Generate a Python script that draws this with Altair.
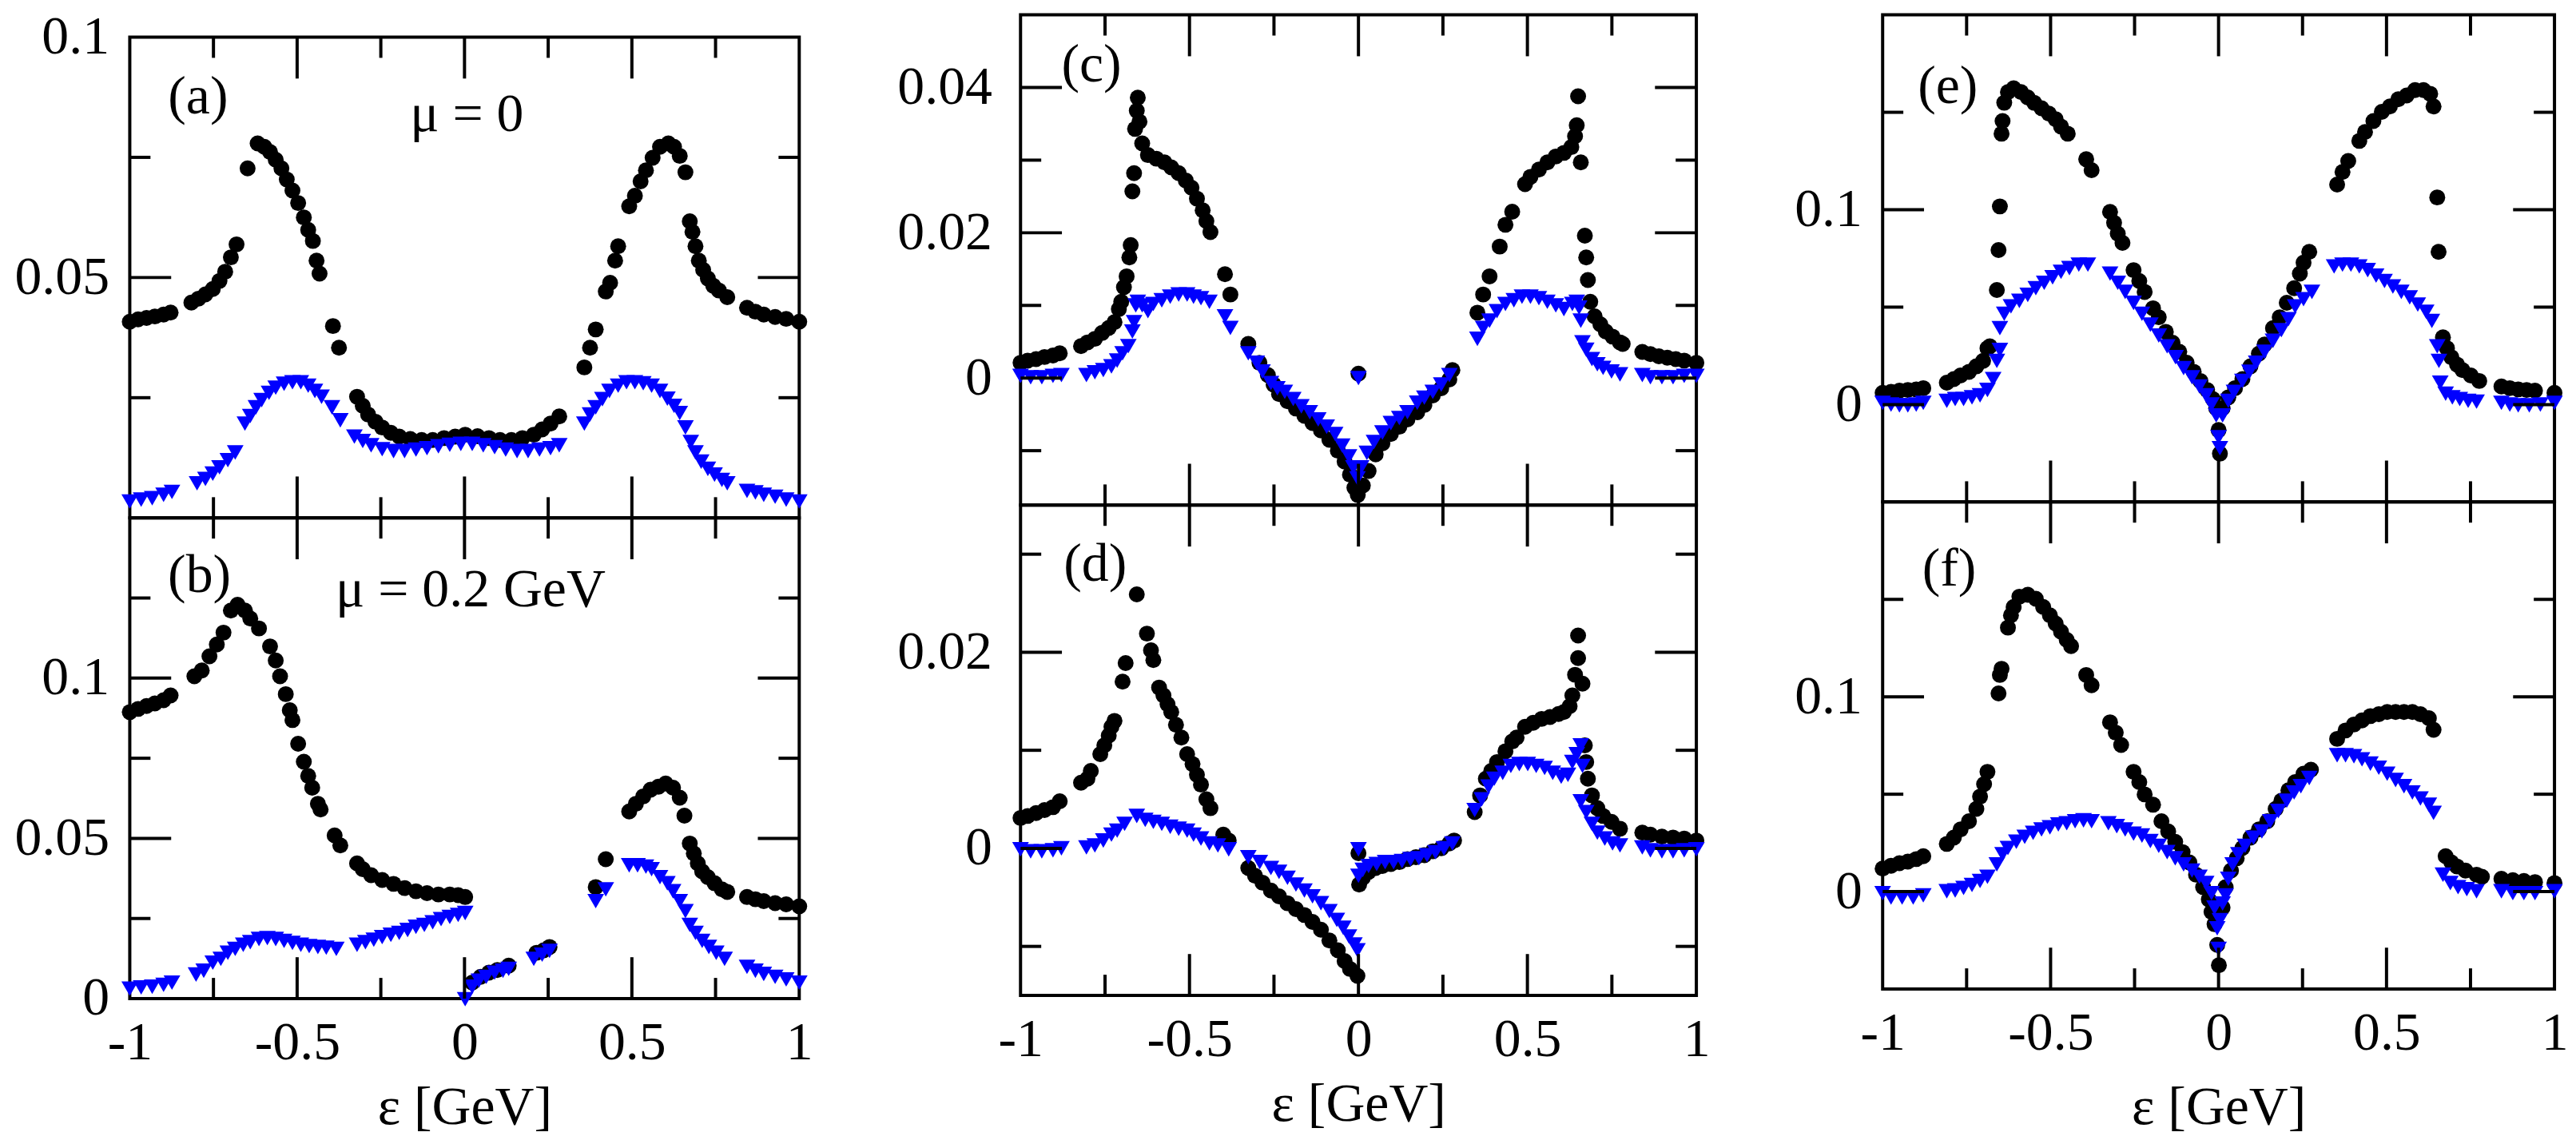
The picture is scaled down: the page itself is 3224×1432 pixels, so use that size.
import altair as alt
import pandas as pd

# ---------------- panel (a): mu = 0 ----------------
a_black_x = [-1.000,-0.975,-0.950,-0.925,-0.899,-0.878,-0.816,-0.795,-0.774,-0.752,-0.732,-0.715,-0.698,-0.681,
             -0.648,-0.618,-0.598,-0.581,-0.564,-0.547,-0.531,-0.514,-0.497,-0.480,-0.467,-0.453,-0.442,-0.433,
             -0.393,-0.375,-0.321,-0.304,-0.288,-0.266,-0.246,-0.220,-0.195,-0.162,-0.128,-0.095,-0.061,-0.028,
             0.002,0.039,0.073,0.106,0.140,0.173,0.207,0.232,0.257,0.283,0.358,0.375,0.392,0.422,0.435,0.450,
             0.459,0.492,0.509,0.526,0.542,0.562,0.584,0.609,0.626,0.643,0.660,0.673,0.681,0.690,0.700,0.713,
             0.727,0.743,0.760,0.785,0.844,0.869,0.894,0.928,0.961,1.000]
a_black_y = [0.0408,0.0413,0.0416,0.0419,0.0423,0.0427,0.0448,0.0456,0.0465,0.0476,0.0493,0.0512,0.0542,0.0569,
             0.0727,0.0779,0.0772,0.0761,0.0745,0.0727,0.0704,0.0681,0.0655,0.0625,0.0599,0.0576,0.0535,0.0508,
             0.0399,0.0354,0.0252,0.0233,0.0215,0.0200,0.0188,0.0177,0.0169,0.0164,0.0162,0.0162,0.0166,0.0169,
             0.0173,0.0170,0.0166,0.0162,0.0162,0.0166,0.0173,0.0184,0.0196,0.0211,0.0313,0.0354,0.0392,0.0471,
             0.0489,0.0535,0.0565,0.0648,0.0670,0.0700,0.0723,0.0749,0.0772,0.0779,0.0772,0.0753,0.0719,0.0617,
             0.0595,0.0565,0.0535,0.0516,0.0498,0.0483,0.0473,0.0459,0.0437,0.0429,0.0423,0.0418,0.0414,0.0408]
a_blue_x = [-1.000,-0.966,-0.933,-0.899,-0.874,-0.799,-0.774,-0.752,-0.732,-0.707,-0.685,-0.656,-0.640,-0.623,
            -0.606,-0.584,-0.564,-0.539,-0.514,-0.489,-0.467,-0.447,-0.427,-0.396,-0.371,-0.329,-0.304,-0.279,
            -0.246,-0.212,-0.179,-0.145,-0.112,-0.078,-0.044,-0.011,0.023,0.056,0.090,0.123,0.157,0.190,0.224,
            0.257,0.283,0.358,0.375,0.392,0.412,0.433,0.459,0.484,0.509,0.534,0.559,0.584,0.606,0.626,0.643,
            0.660,0.676,0.690,0.707,0.727,0.747,0.769,0.785,0.844,0.869,0.894,0.928,0.961,1.000]
a_blue_y = [0.0034,0.0038,0.0041,0.0048,0.0054,0.0072,0.0081,0.0092,0.0105,0.0120,0.0136,0.0196,0.0212,0.0230,
            0.0245,0.0260,0.0271,0.0279,0.0282,0.0282,0.0275,0.0264,0.0252,0.0230,0.0203,0.0169,0.0160,0.0151,
            0.0143,0.0139,0.0139,0.0142,0.0145,0.0149,0.0152,0.0154,0.0154,0.0151,0.0147,0.0142,0.0139,0.0139,
            0.0142,0.0145,0.0151,0.0196,0.0215,0.0230,0.0247,0.0264,0.0275,0.0282,0.0282,0.0280,0.0275,0.0264,
            0.0248,0.0233,0.0218,0.0188,0.0158,0.0136,0.0117,0.0102,0.0090,0.0079,0.0072,0.0056,0.0053,0.0048,
            0.0044,0.0038,0.0034]

# ---------------- panel (b): mu = 0.2 GeV ----------------
b_black_x = [-1.000,-0.975,-0.950,-0.925,-0.899,-0.878,-0.807,-0.785,-0.762,-0.740,-0.720,-0.698,-0.678,-0.656,
             -0.640,-0.614,-0.581,-0.564,-0.551,-0.534,-0.522,-0.514,-0.497,-0.480,-0.467,-0.455,-0.438,-0.430,
             -0.388,-0.371,-0.321,-0.304,-0.279,-0.246,-0.212,-0.179,-0.145,-0.112,-0.078,-0.044,-0.019,0.002,
             0.023,0.048,0.073,0.098,0.132,0.215,0.237,0.254,0.392,0.422,0.492,0.512,0.534,0.556,0.579,0.601,
             0.623,0.643,0.657,0.673,0.685,0.697,0.710,0.727,0.747,0.769,0.785,0.844,0.869,0.894,0.928,0.961,1.000]
b_black_y = [0.0894,0.0904,0.0913,0.0921,0.0931,0.0946,0.1006,0.1024,0.1068,0.1105,0.1142,0.1211,0.1229,0.1211,
             0.1186,0.1155,0.1099,0.1055,0.1006,0.0950,0.0900,0.0869,0.0795,0.0739,0.0695,0.0658,0.0608,0.0590,
             0.0509,0.0478,0.0422,0.0404,0.0385,0.0370,0.0358,0.0345,0.0335,0.0329,0.0325,0.0325,0.0323,0.0317,
             0.0050,0.0068,0.0081,0.0089,0.0103,0.0143,0.0151,0.0161,0.0348,0.0435,0.0584,0.0608,0.0631,0.0652,
             0.0661,0.0671,0.0658,0.0627,0.0571,0.0484,0.0453,0.0422,0.0397,0.0379,0.0360,0.0341,0.0333,0.0317,
             0.0310,0.0304,0.0298,0.0294,0.0288]
b_blue_x = [-1.000,-0.966,-0.933,-0.899,-0.874,-0.802,-0.779,-0.752,-0.728,-0.707,-0.685,-0.661,-0.640,-0.614,
            -0.589,-0.564,-0.539,-0.514,-0.489,-0.464,-0.438,-0.413,-0.383,-0.321,-0.296,-0.271,-0.246,-0.220,
            -0.195,-0.170,-0.145,-0.120,-0.095,-0.070,-0.044,-0.019,0.002,0.002,0.023,0.043,0.065,0.090,0.115,
            0.132,0.207,0.232,0.254,0.392,0.422,0.492,0.517,0.542,0.559,0.584,0.606,0.623,0.643,0.660,0.673,
            0.690,0.710,0.730,0.752,0.777,0.844,0.869,0.894,0.928,0.961,1.000]
b_blue_y = [0.0031,0.0035,0.0037,0.0043,0.0050,0.0075,0.0087,0.0112,0.0124,0.0143,0.0155,0.0168,0.0176,0.0186,
            0.0189,0.0186,0.0180,0.0174,0.0168,0.0164,0.0161,0.0159,0.0155,0.0168,0.0176,0.0184,0.0192,0.0199,
            0.0205,0.0214,0.0224,0.0230,0.0238,0.0248,0.0255,0.0261,0.0267,-0.0002,0.0037,0.0056,0.0068,0.0081,
            0.0087,0.0093,0.0124,0.0137,0.0149,0.0304,0.0341,0.0416,0.0416,0.0412,0.0404,0.0379,0.0360,0.0335,
            0.0304,0.0273,0.0230,0.0205,0.0180,0.0161,0.0143,0.0124,0.0099,0.0087,0.0077,0.0068,0.0060,0.0050]

# ---------------- panel (c) ----------------
c_black_x = [-1.000,-0.979,-0.954,-0.929,-0.904,-0.884,-0.821,-0.802,-0.780,-0.759,-0.739,-0.722,-0.709,-0.702,
             -0.694,-0.686,-0.678,-0.674,-0.669,-0.664,-0.661,-0.656,-0.653,-0.648,-0.640,-0.623,-0.598,-0.574,
             -0.554,-0.532,-0.511,-0.494,-0.478,-0.461,-0.450,-0.438,-0.395,-0.379,-0.326,-0.293,-0.268,-0.251,
             -0.235,-0.210,-0.185,-0.160,-0.136,-0.111,-0.086,-0.061,-0.041,-0.025,-0.012,-0.002,0.000,0.013,
             0.030,0.051,0.071,0.096,0.121,0.145,0.174,0.195,0.220,0.245,0.269,0.278,0.352,0.369,0.388,0.418,
             0.435,0.455,0.493,0.509,0.534,0.559,0.584,0.608,0.630,0.641,0.646,0.650,0.658,0.670,0.674,0.679,
             0.686,0.699,0.716,0.732,0.752,0.774,0.782,0.840,0.864,0.889,0.914,0.939,0.964,1.000]
c_black_y = [0.0021,0.0024,0.0026,0.0029,0.0031,0.0034,0.0044,0.0049,0.0054,0.0062,0.0069,0.0077,0.0095,0.0105,
             0.0125,0.0140,0.0166,0.0183,0.0257,0.0282,0.0343,0.0368,0.0386,0.0353,0.0323,0.0307,0.0302,0.0297,
             0.0290,0.0282,0.0272,0.0262,0.0247,0.0231,0.0216,0.0201,0.0143,0.0115,0.0047,0.0021,0.0004,-0.0009,
             -0.0022,-0.0032,-0.0042,-0.0052,-0.0062,-0.0072,-0.0085,-0.0100,-0.0115,-0.0133,-0.0151,-0.0161,0.0006,-0.0148,
             -0.0128,-0.0105,-0.0090,-0.0077,-0.0067,-0.0057,-0.0047,-0.0037,-0.0024,-0.0014,-0.0002,0.0011,0.0090,0.0115,
             0.0140,0.0181,0.0211,0.0229,0.0267,0.0277,0.0287,0.0297,0.0305,0.0310,0.0318,0.0333,0.0348,0.0388,
             0.0297,0.0196,0.0166,0.0135,0.0105,0.0085,0.0074,0.0064,0.0057,0.0049,0.0047,0.0036,0.0033,0.0030,
             0.0028,0.0026,0.0024,0.0021]
c_blue_x = [-1.000,-0.970,-0.937,-0.904,-0.879,-0.805,-0.780,-0.755,-0.731,-0.714,-0.698,-0.681,-0.669,-0.664,
            -0.659,-0.653,-0.640,-0.623,-0.607,-0.582,-0.557,-0.532,-0.507,-0.488,-0.466,-0.441,-0.395,-0.379,
            -0.326,-0.301,-0.284,-0.259,-0.240,-0.218,-0.193,-0.169,-0.144,-0.119,-0.094,-0.069,-0.048,-0.028,
            -0.015,-0.003,0.000,0.008,0.025,0.046,0.071,0.096,0.121,0.145,0.174,0.195,0.220,0.245,0.269,0.352,
            0.369,0.388,0.410,0.435,0.460,0.484,0.509,0.534,0.559,0.584,0.608,0.633,0.646,0.653,0.658,0.663,
            0.674,0.691,0.707,0.724,0.749,0.774,0.840,0.864,0.898,0.931,0.964,1.000]
c_blue_y = [0.0003,0.0001,0.0001,0.0003,0.0004,0.0004,0.0008,0.0011,0.0016,0.0024,0.0034,0.0044,0.0064,0.0077,
            0.0100,0.0105,0.0100,0.0092,0.0102,0.0107,0.0112,0.0115,0.0115,0.0112,0.0110,0.0105,0.0085,0.0069,
            0.0034,0.0021,0.0009,-0.0007,-0.0014,-0.0019,-0.0029,-0.0039,-0.0047,-0.0057,-0.0067,-0.0077,-0.0093,-0.0108,
            -0.0123,-0.0138,0.0000,-0.0123,-0.0103,-0.0088,-0.0075,-0.0062,-0.0055,-0.0047,-0.0034,-0.0027,-0.0019,-0.0009,0.0004,0.0054,
            0.0069,0.0079,0.0092,0.0102,0.0107,0.0112,0.0112,0.0110,0.0105,0.0100,0.0095,0.0102,0.0105,0.0097,0.0079,0.0049,
            0.0039,0.0026,0.0019,0.0014,0.0009,0.0005,0.0004,0.0001,0.0001,0.0001,0.0003,0.0003]

# ---------------- panel (d) ----------------
d_black_x = [-1.000,-0.979,-0.954,-0.929,-0.904,-0.884,-0.821,-0.802,-0.792,-0.764,-0.752,-0.739,-0.731,-0.722,
             -0.698,-0.689,-0.656,-0.626,-0.614,-0.607,-0.590,-0.577,-0.565,-0.554,-0.540,-0.524,-0.507,-0.491,
             -0.478,-0.466,-0.450,-0.438,-0.400,-0.384,-0.326,-0.306,-0.284,-0.259,-0.235,-0.210,-0.185,-0.160,
             -0.136,-0.111,-0.086,-0.061,-0.041,-0.025,-0.003,0.000,0.002,0.013,0.030,0.051,0.071,0.096,0.121,
             0.145,0.170,0.195,0.220,0.245,0.269,0.283,0.344,0.360,0.377,0.393,0.410,0.435,0.455,0.468,0.493,
             0.517,0.542,0.567,0.592,0.608,0.625,0.633,0.641,0.650,0.650,0.663,0.670,0.674,0.679,0.691,0.707,
             0.724,0.749,0.774,0.840,0.864,0.898,0.931,0.964,1.000]
d_black_y = [0.0031,0.0033,0.0036,0.0039,0.0042,0.0048,0.0067,0.0071,0.0079,0.0096,0.0105,0.0115,0.0124,0.0130,
             0.0170,0.0189,0.0259,0.0219,0.0202,0.0192,0.0164,0.0156,0.0147,0.0139,0.0126,0.0113,0.0096,0.0086,
             0.0075,0.0065,0.0050,0.0041,0.0014,0.0008,-0.0020,-0.0028,-0.0035,-0.0043,-0.0049,-0.0056,-0.0062,-0.0068,
             -0.0075,-0.0083,-0.0094,-0.0104,-0.0115,-0.0123,-0.0130,-0.0005,-0.0037,-0.0030,-0.0024,-0.0020,-0.0018,-0.0016,-0.0014,
             -0.0011,-0.0009,-0.0007,-0.0003,0.0000,0.0005,0.0008,0.0037,0.0054,0.0071,0.0079,0.0088,0.0099,0.0109,0.0113,0.0124,
             0.0128,0.0132,0.0134,0.0137,0.0139,0.0145,0.0156,0.0177,0.0194,0.0217,0.0168,0.0105,0.0088,0.0071,0.0054,0.0041,
             0.0033,0.0027,0.0020,0.0016,0.0014,0.0012,0.0011,0.0010,0.0008]
d_blue_x = [-1.000,-0.970,-0.937,-0.904,-0.879,-0.805,-0.780,-0.755,-0.731,-0.714,-0.692,-0.656,-0.631,-0.607,
            -0.582,-0.557,-0.532,-0.507,-0.488,-0.466,-0.441,-0.416,-0.384,-0.326,-0.292,-0.259,-0.235,-0.210,
            -0.185,-0.160,-0.136,-0.111,-0.086,-0.064,-0.045,-0.028,-0.012,-0.003,0.000,0.000,0.013,0.030,0.054,
            0.079,0.104,0.129,0.154,0.179,0.203,0.228,0.253,0.278,0.344,0.365,0.385,0.402,0.427,0.451,0.476,
            0.501,0.526,0.551,0.575,0.600,0.620,0.633,0.646,0.658,0.663,0.658,0.674,0.691,0.707,0.729,0.752,
            0.774,0.840,0.864,0.898,0.931,0.964,1.000]
d_blue_y = [-0.0001,-0.0003,-0.0003,-0.0002,0.0000,0.0001,0.0003,0.0008,0.0014,0.0018,0.0025,0.0033,0.0029,0.0027,
            0.0025,0.0022,0.0020,0.0018,0.0014,0.0010,0.0005,0.0003,-0.0001,-0.0009,-0.0014,-0.0020,-0.0024,-0.0030,
            -0.0037,-0.0043,-0.0049,-0.0056,-0.0064,-0.0073,-0.0081,-0.0090,-0.0098,-0.0104,-0.0001,-0.0028,-0.0022,-0.0018,-0.0016,
            -0.0014,-0.0014,-0.0013,-0.0011,-0.0010,-0.0007,-0.0004,0.0000,0.0005,0.0039,0.0050,0.0063,0.0071,0.0077,0.0084,0.0086,
            0.0086,0.0084,0.0082,0.0077,0.0073,0.0075,0.0088,0.0096,0.0105,0.0084,0.0048,0.0037,0.0025,0.0016,0.0010,0.0005,
            0.0003,0.0001,-0.0002,-0.0003,-0.0003,-0.0002,-0.0001]

# ---------------- panel (e) ----------------
e_black_x = [-1.000,-0.975,-0.950,-0.925,-0.900,-0.879,-0.809,-0.788,-0.768,-0.743,-0.721,-0.701,-0.688,-0.681,
             -0.660,-0.655,-0.651,-0.646,-0.643,-0.638,-0.627,-0.610,-0.588,-0.568,-0.549,-0.527,-0.505,-0.485,
             -0.469,-0.449,-0.394,-0.378,-0.323,-0.311,-0.300,-0.286,-0.253,-0.236,-0.220,-0.195,-0.178,-0.157,
             -0.137,-0.117,-0.095,-0.074,-0.054,-0.034,-0.017,-0.007,0.000,0.004,0.012,0.029,0.049,0.071,0.095,
             0.120,0.137,0.162,0.182,0.203,0.225,0.242,0.253,0.270,0.353,0.369,0.386,0.419,0.436,0.461,0.486,
             0.510,0.535,0.560,0.585,0.610,0.630,0.640,0.651,0.655,0.668,0.680,0.693,0.710,0.726,0.751,0.776,
             0.842,0.867,0.892,0.917,0.942,1.000]
e_black_y = [0.0060,0.0065,0.0071,0.0075,0.0078,0.0084,0.0112,0.0131,0.0149,0.0168,0.0196,0.0224,0.0289,0.0299,
             0.0588,0.0793,0.1017,0.1390,0.1455,0.1549,0.1604,0.1623,0.1604,0.1576,0.1549,0.1521,0.1493,0.1465,
             0.1427,0.1390,0.1259,0.1203,0.0989,0.0933,0.0877,0.0830,0.0690,0.0634,0.0578,0.0494,0.0448,0.0373,
             0.0317,0.0271,0.0215,0.0168,0.0121,0.0075,0.0028,-0.0019,-0.0131,-0.0252,-0.0019,0.0037,0.0084,0.0131,0.0196,
             0.0261,0.0308,0.0392,0.0448,0.0522,0.0597,0.0672,0.0728,0.0784,0.1129,0.1194,0.1250,0.1353,0.1399,0.1455,0.1502,
             0.1530,0.1567,0.1586,0.1614,0.1614,0.1595,0.1530,0.1063,0.0784,0.0345,0.0289,0.0243,0.0205,0.0177,0.0149,0.0121,
             0.0093,0.0084,0.0078,0.0075,0.0071,0.0060]
e_blue_x = [-1.000,-0.975,-0.950,-0.925,-0.900,-0.879,-0.809,-0.784,-0.759,-0.734,-0.710,-0.688,-0.671,-0.660,
            -0.651,-0.651,-0.638,-0.618,-0.593,-0.568,-0.544,-0.519,-0.494,-0.469,-0.444,-0.416,-0.389,-0.323,
            -0.300,-0.278,-0.253,-0.228,-0.203,-0.178,-0.153,-0.128,-0.104,-0.079,-0.057,-0.037,-0.021,-0.007,
            0.000,0.004,0.012,0.029,0.046,0.071,0.092,0.112,0.137,0.162,0.187,0.208,0.228,0.253,0.278,0.344,
            0.369,0.394,0.419,0.444,0.469,0.494,0.519,0.544,0.569,0.593,0.618,0.635,0.651,0.656,0.660,0.676,
            0.696,0.718,0.743,0.768,0.842,0.867,0.892,0.925,0.958,1.000]
e_blue_y = [0.0009,0.0000,-0.0004,-0.0004,0.0000,0.0009,0.0019,0.0028,0.0028,0.0037,0.0047,0.0075,0.0131,0.0224,
            0.0280,0.0392,0.0466,0.0504,0.0532,0.0563,0.0597,0.0625,0.0653,0.0681,0.0700,0.0718,0.0718,0.0672,
            0.0625,0.0578,0.0522,0.0466,0.0410,0.0354,0.0299,0.0243,0.0187,0.0140,0.0093,0.0047,0.0000,-0.0056,
            -0.0168,-0.0224,-0.0056,0.0019,0.0065,0.0121,0.0168,0.0215,0.0271,0.0327,0.0382,0.0438,0.0504,0.0541,0.0578,0.0709,
            0.0718,0.0718,0.0709,0.0690,0.0662,0.0634,0.0606,0.0578,0.0550,0.0513,0.0476,0.0429,0.0299,0.0224,0.0112,0.0056,
            0.0037,0.0028,0.0019,0.0015,0.0009,0.0000,-0.0004,-0.0004,0.0000,0.0009]

# ---------------- panel (f) ----------------
f_black_x = [-1.000,-0.975,-0.950,-0.925,-0.900,-0.879,-0.809,-0.788,-0.768,-0.743,-0.721,-0.710,-0.698,-0.688,
             -0.655,-0.651,-0.646,-0.627,-0.618,-0.610,-0.593,-0.568,-0.544,-0.522,-0.502,-0.485,-0.469,-0.452,
             -0.439,-0.394,-0.378,-0.323,-0.306,-0.290,-0.253,-0.236,-0.220,-0.195,-0.170,-0.150,-0.129,-0.107,
             -0.087,-0.067,-0.046,-0.029,-0.021,-0.012,-0.004,0.001,0.012,0.021,0.037,0.054,0.071,0.095,0.120,
             0.145,0.170,0.187,0.208,0.228,0.253,0.275,0.353,0.378,0.403,0.427,0.452,0.477,0.502,0.527,0.552,
             0.577,0.601,0.626,0.640,0.676,0.693,0.710,0.735,0.768,0.784,0.842,0.876,0.909,0.942,1.000]
f_black_y = [0.0118,0.0133,0.0146,0.0154,0.0167,0.0182,0.0245,0.0277,0.0319,0.0361,0.0425,0.0488,0.0552,0.0615,
             0.1017,0.1112,0.1144,0.1355,0.1418,0.1461,0.1514,0.1524,0.1503,0.1461,0.1418,0.1376,0.1334,0.1292,
             0.1260,0.1112,0.1059,0.0869,0.0816,0.0753,0.0615,0.0562,0.0499,0.0446,0.0361,0.0309,0.0256,0.0203,
             0.0150,0.0087,0.0023,-0.0040,-0.0104,-0.0167,-0.0273,-0.0378,-0.0082,0.0023,0.0108,0.0171,0.0224,0.0277,0.0319,
             0.0361,0.0425,0.0467,0.0520,0.0562,0.0605,0.0626,0.0784,0.0827,0.0858,0.0879,0.0901,0.0911,0.0922,0.0922,0.0922,
             0.0922,0.0911,0.0890,0.0831,0.0182,0.0150,0.0129,0.0108,0.0087,0.0076,0.0066,0.0059,0.0055,0.0049,0.0044]
f_blue_x = [-1.000,-0.975,-0.942,-0.909,-0.879,-0.809,-0.784,-0.759,-0.734,-0.710,-0.688,-0.660,-0.643,-0.627,
            -0.602,-0.577,-0.552,-0.527,-0.502,-0.477,-0.452,-0.427,-0.402,-0.378,-0.328,-0.303,-0.278,-0.253,
            -0.228,-0.203,-0.178,-0.153,-0.129,-0.104,-0.079,-0.057,-0.037,-0.021,-0.012,-0.004,0.000,0.004,
            0.012,0.021,0.029,0.042,0.059,0.079,0.104,0.129,0.154,0.178,0.203,0.225,0.245,0.270,0.353,0.378,
            0.403,0.427,0.452,0.477,0.502,0.527,0.552,0.577,0.601,0.626,0.640,0.668,0.690,0.713,0.739,0.768,
            0.842,0.876,0.909,0.942,1.000]
f_blue_y = [-0.0008,-0.0030,-0.0030,-0.0030,-0.0019,0.0002,0.0006,0.0019,0.0034,0.0055,0.0076,0.0140,0.0192,0.0224,
            0.0256,0.0281,0.0302,0.0319,0.0330,0.0345,0.0351,0.0361,0.0366,0.0361,0.0351,0.0336,0.0319,0.0298,
            0.0288,0.0260,0.0235,0.0203,0.0171,0.0140,0.0108,0.0076,0.0044,-0.0008,-0.0082,-0.0188,-0.0294,-0.0146,
            -0.0061,-0.0019,0.0066,0.0140,0.0192,0.0235,0.0277,0.0309,0.0361,0.0414,0.0467,0.0509,0.0541,0.0583,0.0700,0.0700,
            0.0695,0.0679,0.0657,0.0636,0.0605,0.0573,0.0541,0.0509,0.0478,0.0446,0.0404,0.0087,0.0044,0.0023,0.0013,0.0002,
            0.0002,-0.0008,-0.0008,-0.0008,0.0002]

# ---------------- axes / labels ----------------
x_labels = [-1, -0.5, 0, 0.5, 1]
x_major = [-0.5, 0, 0.5]
x_minor = [-0.75, -0.25, 0.25, 0.75]
x_title = "ε [GeV]"

panels = {
    "a": dict(bx=a_black_x, by=a_black_y, tx=a_blue_x, ty=a_blue_y, dom=[0, 0.1],
              labels=[0.05, 0.1], major=[0.05], minor=[0.025, 0.075],
              texts=["(a)", "μ = 0"], tx_=[-0.796, 0.007], ty_=[0.0875, 0.0838]),
    "b": dict(bx=b_black_x, by=b_black_y, tx=b_blue_x, ty=b_blue_y, dom=[0, 0.15],
              labels=[0, 0.05, 0.1], major=[0.05, 0.1], minor=[0.025, 0.075, 0.125],
              texts=["(b)", "μ = 0.2 GeV"], tx_=[-0.792, 0.018], ty_=[0.1319, 0.1273]),
    "c": dict(bx=c_black_x, by=c_black_y, tx=c_blue_x, ty=c_blue_y, dom=[-0.0175, 0.05],
              labels=[0, 0.02, 0.04], major=[0, 0.02, 0.04], minor=[-0.01, 0.01, 0.03],
              texts=["(c)"], tx_=[-0.79], ty_=[0.043]),
    "d": dict(bx=d_black_x, by=d_black_y, tx=d_blue_x, ty=d_blue_y, dom=[-0.015, 0.035],
              labels=[0, 0.02], major=[0, 0.02], minor=[-0.01, 0.01, 0.03],
              texts=["(d)"], tx_=[-0.779], ty_=[0.0289]),
    "e": dict(bx=e_black_x, by=e_black_y, tx=e_blue_x, ty=e_blue_y, dom=[-0.05, 0.2],
              labels=[0, 0.1], major=[0, 0.1], minor=[0.05, 0.15],
              texts=["(e)"], tx_=[-0.806], ty_=[0.163]),
    "f": dict(bx=f_black_x, by=f_black_y, tx=f_blue_x, ty=f_blue_y, dom=[-0.05, 0.2],
              labels=[0, 0.1], major=[0, 0.1], minor=[0.05, 0.15],
              texts=["(f)"], tx_=[-0.802], ty_=[0.1654]),
}

FONT = "Liberation Serif"
FS = 68
LW = 4
MAJ = 52
MIN = 26
CSIZE = 400
TSIZE = 440


def make_panel(key, w, h, bottom, lpad, tpad=13):
    p = panels[key]
    xs = alt.Scale(domain=[-1, 1], nice=False, zero=False)
    ys = alt.Scale(domain=p["dom"], nice=False, zero=False)
    if bottom:
        xaxis = alt.Axis(values=x_labels, ticks=False, domain=False, grid=False,
                         labelExpr="datum.value < 0 ? '-' + format(-datum.value, '~g') : format(datum.value, '~g')",
                         labelFont=FONT, labelFontSize=FS, labelColor="black", labelPadding=22,
                         labelFlush=False, labelOverlap=False,
                         title=x_title, titleFont=FONT, titleFontSize=FS, titleFontWeight="normal",
                         titleColor="black", titlePadding=tpad)
    else:
        xaxis = None
    yaxis = alt.Axis(values=p["labels"], ticks=False, domain=False, grid=False, format="~g",
                     labelFont=FONT, labelFontSize=FS, labelColor="black", labelPadding=lpad,
                     labelFlush=False, labelOverlap=False, title=None)
    X = alt.X("x:Q", scale=xs, axis=xaxis)
    Y = alt.Y("y:Q", scale=ys, axis=yaxis)

    black = alt.Chart(pd.DataFrame({"x": p["bx"], "y": p["by"]})).mark_point(
        shape="circle", filled=True, size=CSIZE, color="black", opacity=1, strokeWidth=0
    ).encode(x=X, y=Y)
    blue = alt.Chart(pd.DataFrame({"x": p["tx"], "y": p["ty"]})).mark_point(
        shape="triangle-down", filled=True, size=TSIZE, color="#0000ff", opacity=1, strokeWidth=0
    ).encode(x=X, y=Y)

    layers = [black, blue]
    for vals, L in ((x_major, MAJ), (x_minor, MIN)):
        df = pd.DataFrame({"x": vals})
        layers.append(alt.Chart(df).mark_rule(color="black", strokeWidth=LW).encode(
            x=X, y=alt.value(0), y2=alt.value(L)))
        layers.append(alt.Chart(df).mark_rule(color="black", strokeWidth=LW).encode(
            x=X, y=alt.value(h), y2=alt.value(h - L)))
    for vals, L in ((p["major"], MAJ), (p["minor"], MIN)):
        df = pd.DataFrame({"y": vals})
        layers.append(alt.Chart(df).mark_rule(color="black", strokeWidth=LW).encode(
            y=Y, x=alt.value(0), x2=alt.value(L)))
        layers.append(alt.Chart(df).mark_rule(color="black", strokeWidth=LW).encode(
            y=Y, x=alt.value(w), x2=alt.value(w - L)))
    txt = pd.DataFrame({"x": p["tx_"], "y": p["ty_"], "t": p["texts"]})
    layers.append(alt.Chart(txt).mark_text(font=FONT, fontSize=FS, color="black",
                                           align="center", baseline="middle").encode(
        x=X, y=Y, text="t:N"))
    return alt.layer(*layers).properties(width=w, height=h)


def spacer(w, h):
    return alt.Chart(pd.DataFrame({"x": [0]})).mark_point(opacity=0, size=1).encode(
        x=alt.X("x:Q", axis=None), y=alt.Y("x:Q", axis=None)
    ).properties(width=w, height=h, view=alt.ViewBackground(strokeWidth=0, strokeOpacity=0))


col1 = alt.vconcat(spacer(841, 28), make_panel("a", 841, 604, False, 26),
                   make_panel("b", 841, 604, True, 26), spacing=0, bounds="flush")
col2 = alt.vconcat(make_panel("c", 849, 616, False, 36), make_panel("d", 849, 616, True, 36, 13),
                   spacing=0, bounds="flush")
col3 = alt.vconcat(make_panel("e", 844, 612, False, 26), make_panel("f", 844, 612, True, 26, 25),
                   spacing=0, bounds="flush")

chart = alt.hconcat(col1, col2, col3, spacing=102).properties(
    padding={"left": 8, "top": 0, "right": 0, "bottom": 0},
    background="white",
).configure_view(stroke="black", strokeWidth=LW)

chart.save("out.html", embed_options={"renderer": "svg", "actions": False})
